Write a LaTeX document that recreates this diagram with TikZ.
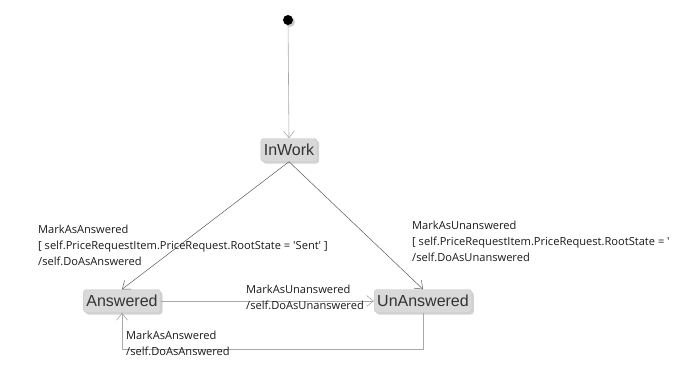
\documentclass[tikz,border=0pt]{standalone}
\usepackage{fontspec}
\setmainfont{Open Sans}
\newfontfamily\statefont{Liberation Sans}
\usepackage{tikz}
\usetikzlibrary{arrows.meta,shadows}

\definecolor{statefill}{HTML}{D9D9D9}
\definecolor{stateborder}{HTML}{C8C8C8}
\definecolor{linegray}{HTML}{A8A8A8}
\definecolor{linedark}{HTML}{5A5A5A}

\begin{document}
\begin{tikzpicture}[
x=1pt,y=-1pt,
state/.style={fill=statefill,draw=stateborder,rounded corners=3pt,minimum height=23pt,inner xsep=3pt,
  font=\statefont\fontsize{16}{16}\selectfont,text=black!80,
  drop shadow={opacity=0.35,shadow xshift=2pt,shadow yshift=-2pt}},
guard/.style={anchor=north west,align=left,inner sep=0pt,font=\fontsize{11.1}{16}\selectfont,text=black!90},
arrow/.style={-{Straight Barb[length=7pt,width=11pt]},line width=0.6pt},
]
\useasboundingbox (0,0) rectangle (675,375);
% states
\node[circle,fill=black,inner sep=0pt,minimum size=10pt,
  drop shadow={opacity=0.4,shadow xshift=2pt,shadow yshift=-2pt}] (init) at (288,20) {};
\node[state] (inwork) at (289,150) {InWork};
\node[state] (answered) at (122,301) {Answered};
\node[state] (unanswered) at (423,301) {UnAnswered};
% transitions
\draw[arrow,linegray] (init) -- (inwork.north);
\draw[arrow,linedark,line width=0.5pt] (inwork.south) -- (answered.north);
\draw[arrow,linedark,line width=0.5pt] (inwork.south) -- (unanswered.north);
\draw[arrow,linegray] (answered.east) -- (unanswered.west);
\draw[arrow,linegray] (unanswered.south) -- ++(0,37) -| (answered.south);
% guards and actions
\node[guard] (lblanswered) at (38,225) {MarkAsAnswered\\{[} self.PriceRequestItem.PriceRequest.RootState = \textquotesingle Sent\textquotesingle{} ]\\/self.DoAsAnswered};
\node[guard] (lblunanswered) at (412,221) {MarkAsUnanswered\\{[} self.PriceRequestItem.PriceRequest.RootState = \textquotesingle\\/self.DoAsUnanswered};
\node[guard] (lblmid) at (246,285) {MarkAsUnanswered\\/self.DoAsUnanswered};
\node[guard] (lblback) at (126,331) {MarkAsAnswered\\/self.DoAsAnswered};
\end{tikzpicture}
\end{document}
